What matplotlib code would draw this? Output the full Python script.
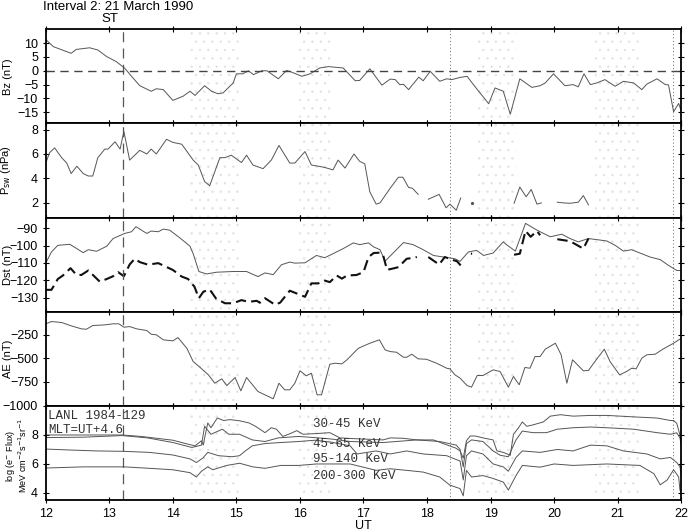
import numpy as np
import matplotlib
matplotlib.use("Agg")
import matplotlib.pyplot as plt

plt.rcParams['font.family'] = ['Liberation Sans', 'DejaVu Sans']
plt.rcParams['font.size'] = 9
plt.rcParams['hatch.linewidth'] = 0.5

nan = np.nan

# IMF Bz (nT)
bz_ut = [12.0, 12.12, 12.4, 12.48, 12.69, 12.82, 12.96, 13.11, 13.24, 13.35, 13.48, 13.66, 13.74, 13.85,
         14.0, 14.16, 14.27, 14.35, 14.5, 14.61, 14.71, 14.79, 14.95, 15.0, 15.1, 15.19, 15.27, 15.4,
         15.48, 15.66, 15.79, 15.87, 16.03, 16.16, 16.31, 16.45, 16.68, 16.87, 16.94, 17.1, 17.29,
         17.42, 17.5, 17.57, 17.63, 17.71, 17.87, 17.94, 18.05, 18.2, 18.31, 18.39, 18.52, 18.63,
         18.73, 18.97, 19.07, 19.2, 19.31, 19.46, 19.65, 19.78, 19.86, 19.99, 20.17, 20.3, 20.38,
         20.47, 20.57, 20.67, 20.8, 20.96, 21.09, 21.25, 21.38, 21.46, 21.62, 21.75, 21.8, 21.88,
         21.96, 22.0]
bz_val = [11.3, 8.7, 6.3, 7.7, 8.3, 7.5, 5.1, 3.3, 1.0, -2.0, -5.4, -7.4, -6.5, -6.8,
          -10.7, -9.2, -7.4, -8.9, -5.4, -7.4, -8.3, -8.0, -4.4, -1.1, -1.1, 0.0, -1.4, 0.0,
          0.0, -2.9, 0.1, -0.5, -2.0, -1.1, 1.0, 1.5, 1.0, -3.6, -3.5, 0.7, -5.2,
          -3.0, -3.2, -5.0, -4.9, -6.8, -2.3, -3.6, -0.2, -3.8, -2.9, -3.2, -2.4, -2.0,
          -5.0, -11.9, -6.2, -7.4, -15.7, -2.9, -6.0, -5.4, -4.4, -1.1, -5.4, -5.0, -5.8,
          -1.1, -5.0, -4.4, -3.2, -5.6, -3.8, -4.4, -6.8, -4.8, -2.9, -5.0, -5.1, -14.8,
          -11.8, -14.5]

# Solar wind dynamic pressure (nPa), NaN = data gap
psw_ut = [12.0, 12.06, 12.14, 12.25, 12.33, 12.4, 12.49, 12.59, 12.67, 12.74, 12.82, 12.93, 12.98,
          13.09, 13.17, 13.23, 13.32, 13.48, 13.59, 13.66, 13.74, 13.9, 14.0, 14.14, 14.32, 14.4,
          14.5, 14.58, 14.74, 14.82, 14.92, 15.08, 15.16, 15.26, 15.42, 15.55, 15.67, 15.84, 15.92,
          16.08, 16.18, 16.29, 16.39, 16.52, 16.6, 16.71, 16.85, 16.94, 17.02, 17.1, 17.2, 17.26,
          17.42, 17.55, 17.62, 17.71, 17.77, 17.86, 17.94, 18.02, 18.19, 18.3, 18.36, 18.46, 18.53,
          18.6, 18.7, 18.72, 19.3, 19.37, 19.46, 19.56, 19.64, 19.73, 19.8, 19.9, 20.05, 20.15,
          20.25, 20.38, 20.46, 20.54]
psw_val = [5.26, 6.1, 6.5, 5.7, 5.26, 4.4, 5.0, 4.4, 4.2, 4.2, 5.7, 6.4, 6.4,
           7.0, 6.4, 7.85, 5.5, 6.3, 6.0, 6.4, 6.0, 7.2, 6.95, 6.8, 5.5, 5.1,
           3.75, 3.4, 5.7, 5.7, 5.9, 5.3, 5.9, 5.1, 4.8, 5.5, 6.7, 5.26, 5.26,
           6.2, 5.1, 5.0, 4.9, 4.7, 5.5, 4.85, 6.0, 5.4, 5.2, 2.9, 1.9, 2.0,
           3.2, 4.1, 4.1, 3.26, 3.2, 2.7, nan, 2.3, 2.7, 1.6, 1.9, 1.4, 2.4,
           nan, 1.97, nan, nan, 1.97, 3.3, 2.5, 3.1, 1.9, 2.0, nan, 2.06, 2.0,
           1.97, 2.06, 2.6, 1.84]

# Dst measured (solid) and predicted (dashed), nT
dst_ut = [12.0, 12.09, 12.19, 12.38, 12.59, 12.67, 12.8, 12.96, 13.06, 13.24, 13.35, 13.42, 13.59,
          13.66, 13.77, 13.85, 13.95, 14.11, 14.27, 14.32, 14.41, 14.53, 14.69, 14.95, 15.16, 15.34,
          15.45, 15.58, 15.71, 15.84, 15.92, 16.08, 16.26, 16.39, 16.52, 16.68, 16.84, 16.94, 17.08,
          17.16, 17.26, 17.34, 17.63, 17.78, 17.94, 18.1, 18.26, 18.44, 18.52, 18.65, 18.78, 18.89,
          19.04, 19.2, 19.25, 19.39, 19.55, 19.73, 19.94, 20.12, 20.25, 20.38, 20.54, 20.83, 20.96,
          21.09, 21.22, 21.35, 21.51, 21.67, 21.8, 21.93, 22.0]
dst_val = [-110.1, -103.7, -99.9, -99.3, -104.1, -102.4, -103.3, -100.4, -96.0, -93.1, -92.1, -89.2,
           -93.1, -91.7, -92.1, -90.6, -91.2, -95.6, -100.4, -104.7, -114.9, -116.3, -115.3, -114.9,
           -114.9, -117.8, -115.7, -116.7, -111.0, -109.5, -110.1, -109.9, -105.7, -107.0, -104.7,
           -101.8, -98.5, -99.5, -98.5, -100.8, -102.4, -109.0, -98.3, -99.5, -102.4, -105.7, -106.6,
           -107.6, -109.1, -103.7, -102.8, -105.7, -104.3, -97.9, -99.5, -103.2, -87.3, -91.2, -95.0,
           -93.5, -96.0, -97.9, -96.0, -97.4, -99.9, -103.2, -102.4, -104.3, -106.6, -108.1, -111.4,
           -114.3, -114.3]
dstp_ut = [12.0, 12.09, 12.19, 12.27, 12.39, 12.48, 12.56, 12.67, 12.85, 12.96, 13.06, 13.14, 13.23,
           13.32, 13.4, 13.48, 13.61, 13.77, 14.0, 14.14, 14.24, 14.34, 14.41, 14.48, 14.58, 14.68,
           14.82, 14.95, 15.08, 15.19, 15.32, 15.37, 15.45, 15.61, 15.69, 15.84, 15.95, 16.08, 16.18,
           16.29, 16.39, 16.47, 16.58, 16.66, 16.74, 16.89, 17.0, 17.08, 17.16, 17.26, 17.31, 17.37,
           17.44, 17.55, 17.68, 17.76, 17.84, 17.94, 18.02, 18.19, 18.28, 18.39, 18.47, 18.53, 18.6,
           18.69, 18.71, 19.3, 19.37, 19.46, 19.55, 19.63, 19.73, 19.78, 19.9, 20.05, 20.25, 20.46,
           20.54]
dstp_val = [-125.4, -125.4, -119.2, -117.2, -113.0, -116.7, -116.9, -114.3, -120.7, -119.2, -117.6,
            -115.3, -117.6, -110.9, -107.6, -109.5, -111.0, -110.1, -114.0, -117.8, -119.2, -123.6,
            -130.2, -126.5, -125.2, -130.4, -133.1, -133.1, -131.3, -132.3, -131.7, -132.8, -130.2,
            -134.0, -132.7, -125.9, -127.5, -129.4, -121.7, -121.7, -120.1, -121.0, -117.2, -119.0,
            -117.2, -116.9, -115.3, -106.6, -104.3, -104.1, -105.7, -113.9, -113.4, -112.4, -107.6,
            -107.2, -106.6, nan, -106.6, -110.9, -106.6, -108.1, -109.0, -111.4, nan, -104.7, -104.7,
            nan, -105.3, -104.7, -91.6, -95.0, -91.7, -94.1, nan, -96.4, -97.5, -101.8, -96.0]

# AE index (nT)
ae_ut = [12.0, 12.09, 12.25, 12.4, 12.56, 12.64, 12.74, 12.93, 13.06, 13.15, 13.23, 13.32, 13.43,
         13.59, 13.66, 13.74, 13.85, 14.0, 14.08, 14.22, 14.32, 14.43, 14.56, 14.66, 14.77, 14.85,
         14.98, 15.07, 15.16, 15.34, 15.48, 15.58, 15.67, 15.76, 15.84, 15.92, 16.0, 16.1, 16.18,
         16.27, 16.34, 16.47, 16.55, 16.66, 16.74, 16.92, 17.1, 17.25, 17.34, 17.42, 17.52, 17.63,
         17.68, 17.76, 17.86, 17.99, 18.15, 18.31, 18.36, 18.44, 18.52, 18.63, 18.7, 18.79, 18.88,
         19.04, 19.15, 19.28, 19.36, 19.45, 19.54, 19.62, 19.7, 19.78, 19.86, 20.02, 20.11, 20.2,
         20.29, 20.46, 20.54, 20.65, 20.79, 20.88, 21.03, 21.14, 21.22, 21.29, 21.38, 21.46, 21.59,
         21.72, 21.88, 22.0]
ae_val = [-137, -113, -123, -158, -190, -194, -155, -148, -137, -137, -173, -166, -190,
          -208, -247, -253, -306, -317, -282, -395, -535, -598, -676, -764, -718, -789,
          -704, -845, -704, -852, -897, -929, -764, -834, -834, -764, -633, -686, -659,
          -887, -887, -564, -553, -560, -517, -395, -342, -306, -412, -430, -437, -490,
          -490, -458, -507, -511, -553, -606, -613, -676, -711, -789, -806, -683, -683,
          -623, -641, -806, -693, -781, -598, -606, -482, -482, -405, -342, -464, -764,
          -517, -633, -630, -528, -405, -535, -676, -641, -606, -613, -500, -464, -458,
          -401, -342, -289]

# LANL 1984-129 electron flux, log10
f1_ut = [12.0, 12.6, 13.2, 13.5, 14.0, 14.2, 14.35, 14.45, 14.48, 14.5, 14.55, 14.6, 14.7, 14.8,
         14.9, 15.05, 15.2, 15.3, 15.37, 15.45, 15.55, 15.63, 15.73, 15.85, 15.95, 16.05, 16.26,
         16.47, 16.63, 16.79, 17.0, 17.31, 17.42, 17.63, 17.84, 17.94, 18.1, 18.31, 18.45, 18.52,
         18.57, 18.62, 18.68, 18.76, 18.88, 19.04, 19.1, 19.2, 19.31, 19.36, 19.44, 19.5, 19.57,
         19.67, 19.83, 19.94, 20.1, 20.3, 20.57, 20.83, 21.25, 21.62, 21.83, 21.88, 21.93, 21.98,
         22.0]
f1_val = [8.0, 8.0, 8.0, 7.9, 7.64, 7.41, 7.25, 7.6, 7.3, 7.8, 8.83, 8.5, 9.17, 9.0,
          9.06, 8.98, 8.83, 8.6, 8.4, 8.16, 8.5, 8.4, 7.9, 8.1, 8.3, 8.05, 8.1,
          8.16, 7.8, 7.76, 7.72, 7.66, 7.8, 7.77, 7.66, 7.66, 7.66, 7.32, 7.1, 6.9,
          6.4, 7.6, 7.93, 7.93, 7.8, 7.66, 6.9, 6.8, 6.6, 8.05, 8.5, 8.9, 8.6,
          8.7, 8.9, 9.3, 9.4, 9.3, 9.35, 9.35, 9.25, 9.17, 9.0, 9.0, 8.8, 8.0,
          7.5]
f2_ut = [12.0, 12.6, 13.2, 13.6, 14.0, 14.3, 14.45, 14.5, 14.6, 14.78, 14.88, 15.05, 15.25, 15.45,
         15.66, 15.98, 16.29, 16.5, 16.79, 17.31, 17.84, 18.2, 18.46, 18.52, 18.57, 18.62, 18.7,
         18.88, 19.04, 19.15, 19.28, 19.4, 19.5, 19.67, 19.88, 20.05, 20.3, 20.57, 20.83, 21.25,
         21.62, 21.83, 21.93, 21.98, 22.0]
f2_val = [7.82, 7.85, 7.96, 7.8, 7.48, 7.14, 7.3, 8.6, 8.05, 8.4, 8.05, 8.05, 7.66, 7.55,
          7.8, 7.9, 7.8, 7.72, 7.55, 7.48, 7.66, 7.55, 7.3, 7.0, 5.8, 7.4, 7.66,
          7.55, 6.9, 6.6, 6.5, 7.66, 8.27, 8.16, 8.16, 8.4, 8.5, 8.55, 8.5, 8.4,
          8.16, 8.05, 8.15, 7.8, 7.3]
f3_ut = [12.0, 12.4, 12.8, 13.24, 13.63, 14.0, 14.27, 14.37, 14.47, 14.55, 14.72, 14.93, 15.05,
         15.14, 15.25, 15.45, 15.7, 15.98, 16.24, 16.5, 16.79, 16.9, 17.2, 17.42, 17.68, 17.94,
         18.31, 18.52, 18.57, 18.62, 18.7, 18.88, 19.04, 19.2, 19.28, 19.4, 19.5, 19.78, 20.05,
         20.3, 20.57, 20.83, 21.09, 21.46, 21.67, 21.83, 21.93, 21.98, 22.0]
f3_val = [7.03, 6.96, 6.9, 6.87, 6.8, 6.62, 6.35, 6.1, 6.4, 6.8, 6.57, 6.5, 6.57,
          6.9, 7.25, 7.41, 7.48, 7.55, 7.64, 7.5, 7.25, 6.69, 6.9, 6.69, 6.9, 6.69,
          6.57, 6.2, 4.9, 6.57, 6.9, 6.69, 6.0, 5.8, 5.5, 6.45, 6.9, 6.8, 7.0,
          6.9, 7.3, 7.25, 6.9, 6.69, 6.35, 6.45, 6.1, 5.8, 5.2]
f4_ut = [12.0, 12.59, 13.24, 13.63, 14.0, 14.27, 14.37, 14.45, 14.55, 14.63, 14.7, 14.85, 15.05,
         15.26, 15.45, 15.7, 15.98, 16.26, 16.79, 17.2, 17.42, 17.68, 17.94, 18.2, 18.36, 18.52,
         18.57, 18.62, 18.7, 18.88, 19.04, 19.2, 19.28, 19.4, 19.5, 19.78, 20.0, 20.3, 20.83,
         21.35, 21.57, 21.67, 21.78, 21.88, 21.96, 21.98, 22.0]
f4_val = [5.72, 5.8, 5.8, 5.7, 5.6, 5.4, 5.1, 5.5, 5.8, 5.6, 5.7, 5.9, 6.05,
          5.8, 5.7, 5.9, 5.9, 6.0, 6.0, 5.56, 5.67, 5.56, 5.44, 5.1, 4.54, 4.3,
          3.8, 5.56, 5.1, 5.2, 5.0, 4.75, 4.2, 5.2, 5.9, 5.78, 6.0, 5.9, 6.0,
          5.9, 5.33, 4.56, 4.9, 5.6, 5.1, 4.2, 4.0]

flux_labels = ['30-45 KeV', '45-65 KeV', '95-140 KeV', '200-300 KeV']
flux_label_y = [8.75, 7.4, 6.37, 5.15]

stipple_spans = [(14.27, 15.05), (15.95, 16.5), (18.8, 19.4), (20.65, 21.35)]
onset_ut = 13.22
dotted_ut = [18.36, 21.87]

fig = plt.figure(figsize=(6.93, 5.31), dpi=100)
gs = fig.add_gridspec(5, 1, left=0.066, right=0.983, top=0.945, bottom=0.058, hspace=0)
axes = [fig.add_subplot(gs[i]) for i in range(5)]

line_kw = dict(color='#555555', lw=0.7)


def mark_isolated(ax, ut, val, **kw):
    # single samples between gaps show up as dots
    v = np.asarray(val, dtype=float)
    t = np.asarray(ut, dtype=float)
    prev_nan = np.r_[True, np.isnan(v[:-1])]
    next_nan = np.r_[np.isnan(v[1:]), True]
    iso = ~np.isnan(v) & prev_nan & next_nan
    ax.plot(t[iso], v[iso], ls='none', marker='o', ms=1.3, **kw)


ax = axes[0]
ax.plot(bz_ut, bz_val, **line_kw)
ax.axhline(0, color='#444444', lw=1.0, ls=(0, (6, 4)))
ax.set_ylim(-19, 15)
ax.set_yticks([10, 5, 0, -5, -10, -15])
ax.set_ylabel('Bz (nT)')

ax = axes[1]
ax.plot(psw_ut, psw_val, **line_kw)
mark_isolated(ax, psw_ut, psw_val, color='#555555')
ax.set_ylim(0.8, 8.5)
ax.set_yticks([2, 4, 6, 8])
ax.set_ylabel('P$_{\\rm sw}$ (nPa)')

ax = axes[2]
ax.plot(dst_ut, dst_val, **line_kw)
ax.plot(dstp_ut, dstp_val, color='#111111', lw=1.5, ls=(0, (5, 2.5)))
mark_isolated(ax, dstp_ut, dstp_val, color='#111111')
ax.set_ylim(-138, -84)
ax.set_yticks([-90, -100, -110, -120, -130])
ax.set_ylabel('Dst (nT)')

ax = axes[3]
ax.plot(ae_ut, ae_val, **line_kw)
ax.set_ylim(-1005, -10)
ax.set_yticks([-250, -500, -750, -1000])
ax.set_ylabel('AE (nT)')

ax = axes[4]
for ut, val in [(f1_ut, f1_val), (f2_ut, f2_val), (f3_ut, f3_val), (f4_ut, f4_val)]:
    ax.plot(ut, val, **line_kw)
ax.set_ylim(3.5, 10)
ax.set_yticks([4, 6, 8])
ax.set_ylabel('log (e$^{-}$ Flux)\nMeV cm$^{-2}$s$^{-1}$sr$^{-1}$', linespacing=0.9)
mono = dict(family=['Liberation Mono', 'DejaVu Sans Mono'], fontsize=9, color='#333333')
ax.text(12.04, 9.3, 'LANL 1984-129', va='center', **mono)
ax.text(12.04, 8.34, 'MLT=UT+4.6', va='center', **mono)
for lab, y in zip(flux_labels, flux_label_y):
    ax.text(16.2, y, lab, va='center', **mono)
ax.set_xlabel('UT', labelpad=0)

for i, ax in enumerate(axes):
    ax.set_xlim(12, 22)
    ax.set_xticks(range(12, 23))
    for a, b in stipple_spans:
        ax.axvspan(a, b, facecolor='none', edgecolor='#e2e2e2', hatch='..', lw=0, zorder=0)
    ax.axvline(onset_ut, color='#555555', lw=0.9, ls=(0, (8, 5)))
    for x in dotted_ut:
        ax.axvline(x, color='#666666', lw=0.7, ls=(0, (1, 2.5)))
    ax.tick_params(direction='inout', top=True, right=True, length=4, labelsize=9)
    if i < 4:
        ax.tick_params(labelbottom=False)
    for s in ax.spines.values():
        s.set_linewidth(1.3)
    ax.yaxis.label.set_fontsize(8)
    ax.yaxis.set_label_coords(-0.052, 0.5)
axes[4].yaxis.label.set_fontsize(6.5)
axes[4].yaxis.set_label_coords(-0.027, 0.47)

fig.text(43 / 693, 1 - 7 / 531, 'Interval 2: 21 March 1990', fontsize=9.5, va='center', ha='left')
fig.text(110 / 693, 1 - 19 / 531, 'ST', fontsize=9.5, va='center', ha='center')

fig.savefig('out.png', dpi=100)
